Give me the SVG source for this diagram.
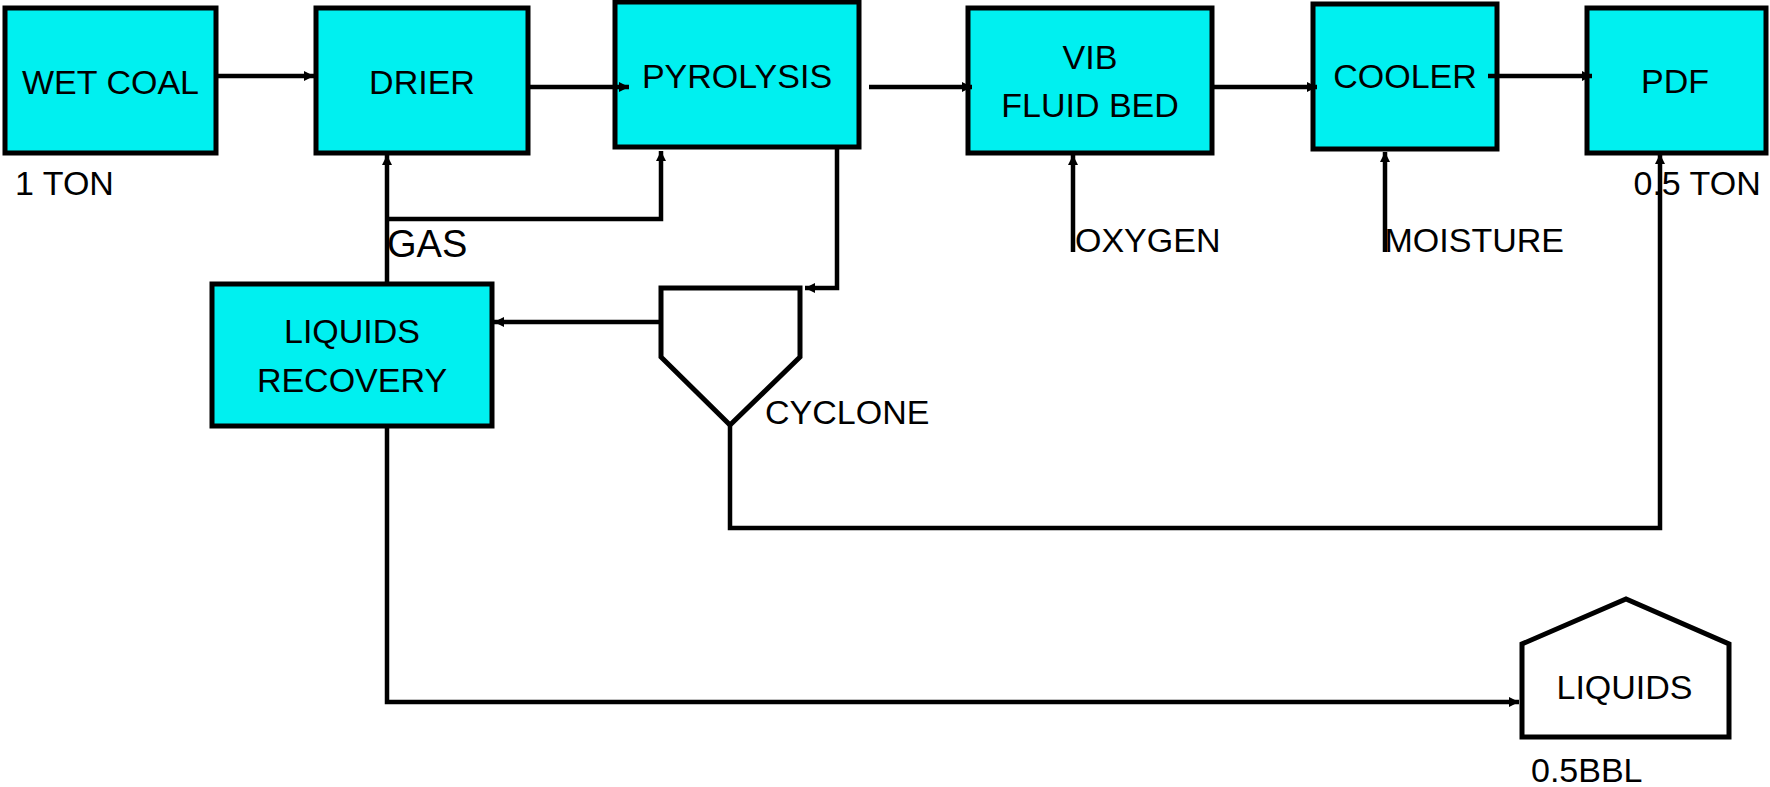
<svg xmlns="http://www.w3.org/2000/svg" width="1770" height="787" viewBox="0 0 1770 787">
<style>
.box{fill:#00F0F0;stroke:#000;stroke-width:5}
.shape{fill:#fff;stroke:#000;stroke-width:5;stroke-linejoin:miter}
.t{font-family:"Liberation Sans",Arial,sans-serif;font-size:34px;fill:#000}
.c{text-anchor:middle}
.conn{fill:none;stroke:#000;stroke-width:4.5}
</style>
<defs>
<marker id="ah" viewBox="0 0 10 10" refX="10" refY="5" markerWidth="11" markerHeight="10" markerUnits="userSpaceOnUse" orient="auto"><path d="M0,0 L10,5 L0,10 z" fill="#000"/></marker>
</defs>
<rect width="1770" height="787" fill="#fff"/>
<g id="wet-coal">
<rect class="box" x="5" y="8" width="211" height="145"/>
<text class="t c" x="110.5" y="94">WET COAL</text>
<text class="t" x="15" y="195">1 TON</text>
</g>
<g id="drier">
<rect class="box" x="316" y="8" width="212" height="145"/>
<text class="t c" x="422" y="94">DRIER</text>
</g>
<g id="pyrolysis">
<rect class="box" x="615" y="2" width="244" height="145"/>
<text class="t c" x="737" y="88">PYROLYSIS</text>
</g>
<g id="vib-fluid-bed">
<rect class="box" x="968" y="8" width="244" height="145"/>
<text class="t c" x="1090" y="69">VIB</text>
<text class="t c" x="1090" y="117">FLUID BED</text>
</g>
<g id="cooler">
<rect class="box" x="1313" y="4" width="184" height="145"/>
<text class="t c" x="1405" y="88">COOLER</text>
</g>
<g id="pdf">
<rect class="box" x="1587" y="8" width="179" height="145"/>
<text class="t c" x="1675" y="93">PDF</text>
<text class="t" x="1633.5" y="195">0.5 TON</text>
</g>
<g id="liquids-recovery">
<rect class="box" x="212" y="284" width="280" height="142"/>
<text class="t c" x="352" y="343">LIQUIDS</text>
<text class="t c" x="352" y="392">RECOVERY</text>
</g>
<g id="cyclone">
<path class="shape" d="M661,288 H800 V357 L730,425 L661,357 Z"/>
<text class="t" x="765" y="424">CYCLONE</text>
</g>
<g id="liquids">
<path class="shape" d="M1522,737 V644 L1626,599 L1729,644 V737 Z"/>
<text class="t c" x="1624.5" y="699">LIQUIDS</text>
<text class="t" x="1531" y="782">0.5BBL</text>
</g>
<g id="labels">
<text class="t" x="387" y="257" style="font-size:38px">GAS</text>
<text class="t" x="1075" y="252">OXYGEN</text>
<text class="t" x="1384.5" y="252">MOISTURE</text>
</g>
<g id="connectors">
<path class="conn" d="M216,76 H314" marker-end="url(#ah)"/>
<path class="conn" d="M528,87 H629" marker-end="url(#ah)"/>
<path class="conn" d="M869,87 H972" marker-end="url(#ah)"/>
<path class="conn" d="M1212,87 H1317" marker-end="url(#ah)"/>
<path class="conn" d="M1488,76 H1592" marker-end="url(#ah)"/>
<path class="conn" d="M1073,252 V155" marker-end="url(#ah)"/>
<path class="conn" d="M1385,252 V152" marker-end="url(#ah)"/>
<path class="conn" d="M387,284 V155" marker-end="url(#ah)"/>
<path class="conn" d="M387,219 H661 V151" marker-end="url(#ah)"/>
<path class="conn" d="M837,149 V288 H805" marker-end="url(#ah)"/>
<path class="conn" d="M661,322 H494" marker-end="url(#ah)"/>
<path class="conn" d="M730,425 V528 H1660 V154" marker-end="url(#ah)"/>
<path class="conn" d="M387,428 V702 H1519" marker-end="url(#ah)"/>
</g>
</svg>
